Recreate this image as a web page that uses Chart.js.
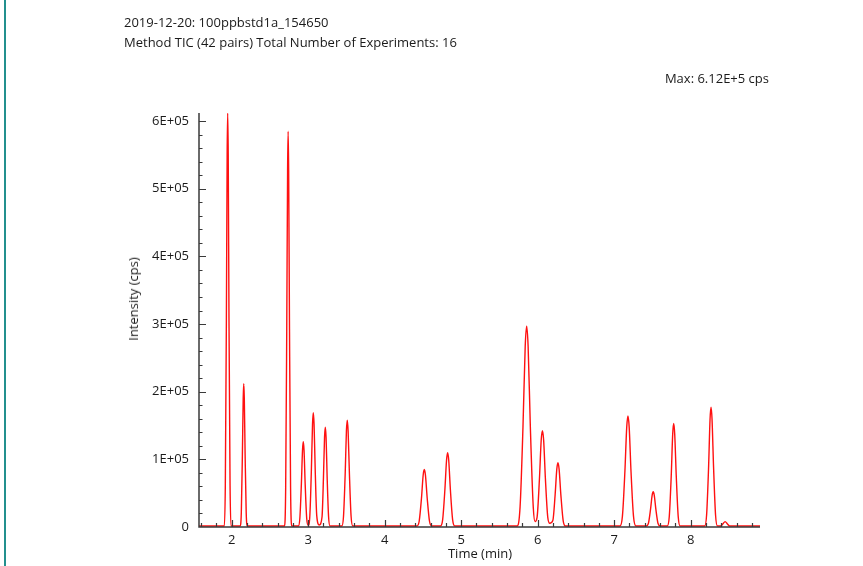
<!DOCTYPE html>
<html>
<head>
<meta charset="utf-8">
<script src="https://cdn.jsdelivr.net/npm/chart.js@4/dist/chart.umd.min.js"></script>
<style>
  body { margin: 0; background: #fff; font-family: "Open Sans", sans-serif; color: #1a1a1a; }
  #wrap { position: relative; width: 863px; height: 566px; overflow: hidden; }
  #edge { position: absolute; left: 4px; top: 0; width: 2px; height: 566px; background: #23908e; }
  .txt { position: absolute; font-size: 13px; line-height: 16px; white-space: nowrap; }
  #ytitle { transform: translate(-50%, -50%) rotate(-90deg); }
</style>
</head>
<body>
<div id="wrap">
  <canvas id="tic"></canvas>
  <div id="edge"></div>
  <div class="txt" style="left:124px; top:14px;">2019-12-20: 100ppbstd1a_154650</div>
  <div class="txt" style="left:124px; top:34px;">Method TIC (42 pairs) Total Number of Experiments: 16</div>
  <div class="txt" style="right:94px; top:70px;">Max: 6.12E+5 cps</div>
  <div class="txt" style="left:480px; top:545px; transform: translateX(-50%);">Time (min)</div>
  <div class="txt" id="ytitle" style="left:133px; top:299px;">Intensity (cps)</div>
</div>
<script>
// 保留时间 (min) 与强度 (cps)
const timeMin = [
  1.573, 1.904, 1.917, 1.931, 1.941, 1.948, 1.955, 1.965, 1.979, 1.992,
  2.111, 2.126, 2.140, 2.151, 2.158, 2.165, 2.176, 2.190, 2.205,
  2.691, 2.706, 2.720, 2.731, 2.738, 2.745, 2.756, 2.770, 2.785,
  2.871, 2.891, 2.911, 2.926, 2.936, 2.946, 2.961, 2.981, 3.001,
  3.022, 3.042, 3.057, 3.067, 3.077, 3.092, 3.112, 3.145,
  3.181, 3.200, 3.214, 3.224, 3.234, 3.248, 3.267, 3.286,
  3.440, 3.462, 3.484, 3.500, 3.511, 3.522, 3.539, 3.561, 3.583,
  4.421, 4.451, 4.481, 4.503, 4.518, 4.533, 4.556, 4.586, 4.616,
  4.729, 4.758, 4.787, 4.809, 4.823, 4.837, 4.859, 4.888, 4.917,
  5.731, 5.770, 5.808, 5.837, 5.856, 5.875, 5.904, 5.942, 5.966,
  5.992, 6.023, 6.046, 6.062, 6.078, 6.101, 6.132, 6.158,
  6.198, 6.228, 6.250, 6.265, 6.280, 6.303, 6.333, 6.363,
  7.076, 7.108, 7.140, 7.164, 7.180, 7.196, 7.220, 7.252, 7.284,
  7.419, 7.447, 7.475, 7.496, 7.510, 7.524, 7.545, 7.573, 7.601,
  7.694, 7.720, 7.746, 7.765, 7.778, 7.791, 7.811, 7.837, 7.862,
  8.182, 8.208, 8.234, 8.253, 8.266, 8.279, 8.299, 8.325, 8.350,
  8.390, 8.420, 8.450, 8.480, 8.510, 8.906
];
const intensity = [
  1500, 1500, 61200, 306000, 550800, 612000, 550800, 306000, 61200, 1500,
  1500, 21200, 106000, 190800, 212000, 190800, 106000, 21200, 1500,
  1500, 58500, 292500, 526500, 585000, 526500, 292500, 58500, 1500,
  1500, 12600, 63000, 113400, 126000, 113400, 63000, 12600, 2500,
  16900, 84500, 152100, 169000, 152100, 84500, 16900, 3000,
  14750, 73750, 132750, 147500, 132750, 73750, 14750, 1500,
  1500, 15800, 79000, 142200, 158000, 142200, 79000, 15800, 1500,
  1500, 8500, 42500, 76500, 85000, 76500, 42500, 8500, 1500,
  1500, 11000, 55000, 99000, 110000, 99000, 55000, 11000, 1500,
  1500, 29700, 148500, 267300, 297000, 267300, 148500, 29700, 8000,
  14250, 71250, 128250, 142500, 128250, 71250, 14250, 5500,
  9500, 47500, 85500, 95000, 85500, 47500, 9500, 1500,
  1500, 16400, 82000, 147600, 164000, 147600, 82000, 16400, 1500,
  1500, 5200, 26000, 46800, 52000, 46800, 26000, 5200, 1500,
  1500, 15300, 76500, 137700, 153000, 137700, 76500, 15300, 1500,
  1500, 17700, 88500, 159300, 177000, 159300, 88500, 17700, 1500,
  1500, 4500, 8000, 4500, 1500, 1500
];
const xTicks = [2, 3, 4, 5, 6, 7, 8];
const yTicks = [0, 100000, 200000, 300000, 400000, 500000, 600000];
const xRange = [1.573, 8.906];
const yRange = [0, 612000];

// 坐标轴与向内刻度
const axisTicks = {
  id: 'axisTicks',
  afterDraw(chart) {
    const ctx = chart.ctx;
    const a = chart.chartArea;
    const xs = chart.scales.x, ys = chart.scales.y;
    ctx.save();
    ctx.strokeStyle = '#3a3a3a';
    ctx.lineWidth = 1.5;
    ctx.beginPath();
    ctx.moveTo(a.left, a.top);
    ctx.lineTo(a.left, a.bottom);
    ctx.lineTo(a.right, a.bottom);
    ctx.stroke();
    ctx.lineWidth = 1.2;
    ctx.beginPath();
    for (let v = 1.6; v < xRange[1]; v += 0.2) {
      const px = Math.round(xs.getPixelForValue(v)) + 0.5;
      const major = Math.abs(v - Math.round(v)) < 0.01;
      ctx.moveTo(px, a.bottom);
      ctx.lineTo(px, a.bottom - (major ? 7 : 4));
    }
    for (let v = 20000; v <= 600000; v += 20000) {
      const py = Math.round(ys.getPixelForValue(v)) + 0.5;
      const major = v % 100000 === 0;
      ctx.moveTo(a.left, py);
      ctx.lineTo(a.left + (major ? 7 : 3.5), py);
    }
    ctx.stroke();
    ctx.restore();
  }
};

new Chart(document.getElementById('tic').getContext('2d'), {
  type: 'line',
  data: {
    datasets: [{
      data: timeMin.map((t, i) => ({ x: t, y: intensity[i] })),
      borderColor: '#ff1010',
      borderWidth: 1.4,
      pointRadius: 0,
      cubicInterpolationMode: 'monotone',
      fill: false
    }]
  },
  options: {
    responsive: true,
    maintainAspectRatio: false,
    animation: false,
    layout: { padding: { left: 0, top: 113, right: 103, bottom: 0 } },
    plugins: { legend: { display: false }, tooltip: { enabled: false } },
    scales: {
      x: {
        type: 'linear',
        min: xRange[0],
        max: xRange[1],
        grid: { display: false, drawTicks: false },
        border: { display: false },
        afterBuildTicks: s => { s.ticks = xTicks.map(v => ({ value: v })); },
        afterFit: s => { s.height = 39; },
        ticks: {
          padding: 5,
          color: '#1a1a1a',
          font: { family: 'Open Sans', size: 13 },
          maxRotation: 0
        }
      },
      y: {
        min: yRange[0],
        max: yRange[1],
        grid: { display: false, drawTicks: false },
        border: { display: false },
        afterBuildTicks: s => { s.ticks = yTicks.map(v => ({ value: v })); },
        afterFit: s => { s.width = 199; },
        ticks: {
          padding: 10,
          color: '#1a1a1a',
          font: { family: 'Open Sans', size: 13 },
          callback: v => v === 0 ? '0' : (v / 100000) + 'E+05'
        }
      }
    }
  },
  plugins: [axisTicks]
});
</script>
</body>
</html>
